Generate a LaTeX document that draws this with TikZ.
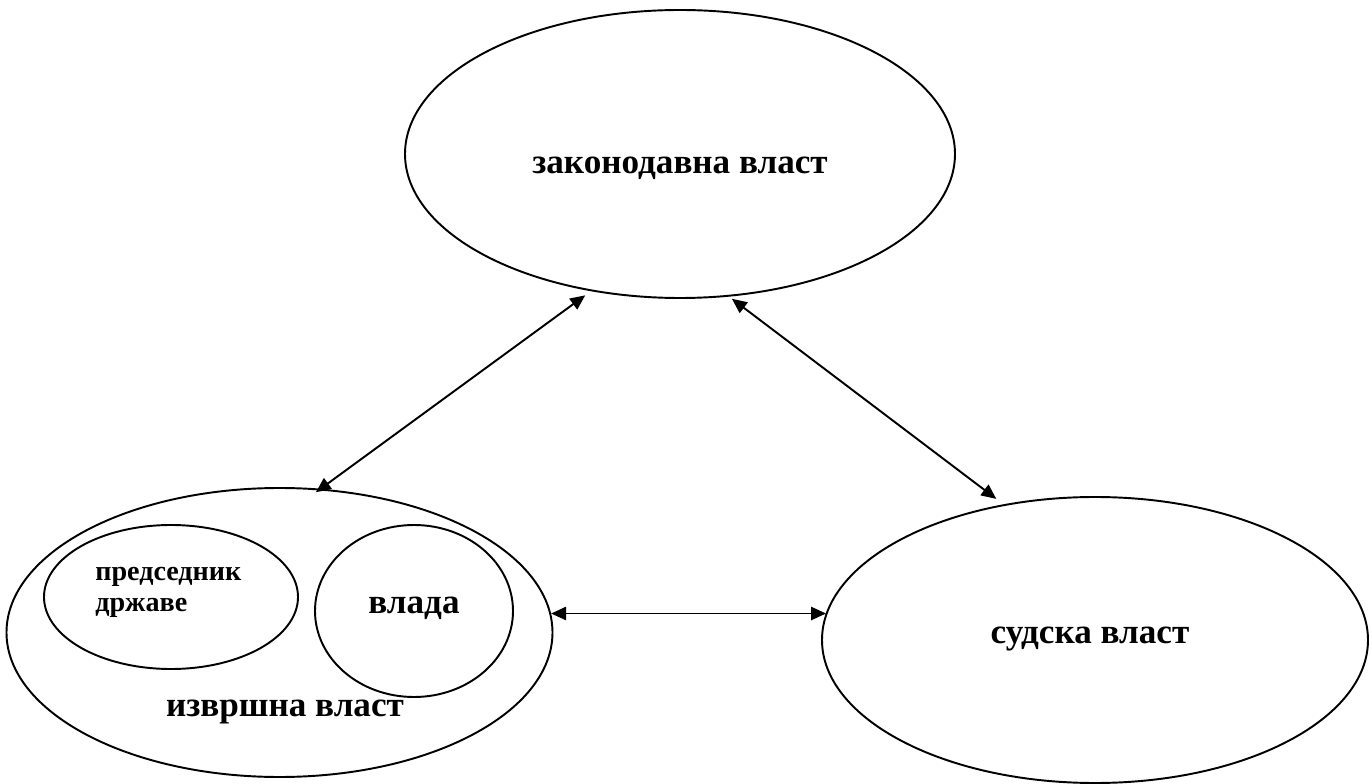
\documentclass[tikz,border=0pt]{standalone}
\usepackage{fontspec}
\setmainfont{Liberation Serif}
\usetikzlibrary{shapes.geometric, arrows.meta}

\begin{document}
\begin{tikzpicture}[
  bubble/.style={ellipse, draw, line width=1.1pt, inner sep=0pt},
  bigtext/.style={anchor=base, inner sep=0pt, font=\bfseries\fontsize{20}{24}\selectfont},
  smalltext/.style={anchor=base west, inner sep=0pt, align=left, font=\bfseries\fontsize{16}{17.6}\selectfont},
  link/.style={{Triangle[length=8.5pt, width=7.5pt]}-{Triangle[length=8.5pt, width=7.5pt]}, line width=1.1pt}
]
  \useasboundingbox (0, 0) rectangle (27.44, -15.68);

  \node[bubble, minimum width=11cm, minimum height=5.76cm] (legis) at (13.6, -3.08) {};
  \node[bubble, minimum width=10.92cm, minimum height=5.78cm] (exec) at (5.59, -12.65) {};
  \node[bubble, minimum width=5.08cm, minimum height=2.88cm] (pres) at (3.42, -11.94) {};
  \node[bubble, minimum width=3.96cm, minimum height=3.44cm] (gov) at (8.28, -12.22) {};
  \node[bubble, minimum width=10.92cm, minimum height=5.72cm] (judic) at (21.9, -12.8) {};

  \node[bigtext] (legislabel) at (13.6, -3.48) {законодавна власт};
  \node[bigtext] (execlabel) at (5.7, -14.32) {извршна власт};
  \node[bigtext] (govlabel) at (8.28, -12.26) {влада};
  \node[bigtext] (judiclabel) at (21.8, -12.86) {судска власт};
  \node[smalltext] (preslabel) at (1.9, -12.22) {председник\\државе};

  \draw[link, shorten <=0.14cm, shorten >=-0.12cm] (legis.237) -- (exec.74);
  \draw[link, shorten <=0.07cm, shorten >=0.18cm] (legis.289) -- (judic.124);
  \draw[link, shorten >=-0.1cm] (exec.4) -- (exec.4 -| judic.west);
\end{tikzpicture}
\end{document}
